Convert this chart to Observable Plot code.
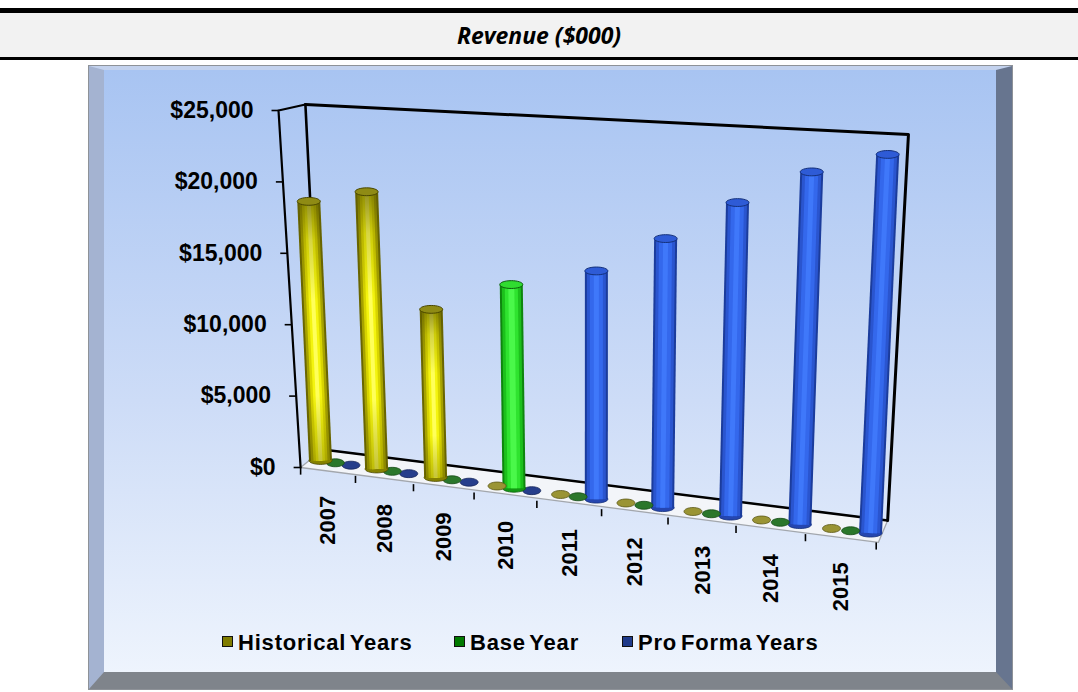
<!DOCTYPE html>
<html>
<head>
<meta charset="utf-8">
<script src="https://cdn.jsdelivr.net/npm/d3@7"></script>
<script src="https://cdn.jsdelivr.net/npm/@observablehq/plot@0.6"></script>
<style>
  html, body { margin: 0; padding: 0; background: #fff; width: 1078px; height: 692px; overflow: hidden; }
  #topRule { position: absolute; left: 0; top: 8px; width: 1078px; height: 5px; background: #000; }
  #titleBand { position: absolute; left: 0; top: 13px; width: 1078px; height: 44px; background: #f2f2f2;
               text-align: center; font: italic 700 23px "Open Sans", "DejaVu Sans", sans-serif; line-height: 44px; color: #000; }
  #botRule { position: absolute; left: 0; top: 57px; width: 1078px; height: 3px; background: #000; }
  #panel { position: absolute; left: 89px; top: 66px; width: 923px; height: 623px; box-sizing: border-box;
           border-style: solid; border-width: 4px 16px 17px 15px;
           border-color: #c3d2ee #67758f #7f848b #a4b3d1;
           background: linear-gradient(#a8c4f2, #cddcf7 55%, #eef4fd);
           box-shadow: 0 0 0 1px #8e9298; }
  #chart { position: absolute; left: 0; top: 0; }
  .lg-sw { position: absolute; top: 636px; width: 11px; height: 11px; box-sizing: border-box; border: 1px solid #111; }
  .lg-tx { position: absolute; top: 630px; line-height: 24px; font: 700 22px "Liberation Sans", Arial, sans-serif;
           letter-spacing: 0.8px; word-spacing: -3px; color: #000; white-space: nowrap; }
  g[aria-label="y-labels"] text { letter-spacing: 1.1px; }
  g[aria-label="x-labels"] text { letter-spacing: 0.7px; }
</style>
</head>
<body>
<div id="topRule"></div>
<div id="titleBand">Revenue ($000)</div>
<div id="botRule"></div>
<div id="panel"></div>
<div id="chart"></div>
<div id="legend"></div>
<script>
// ---------------- data ----------------
const years = ["2007", "2008", "2009", "2010", "2011", "2012", "2013", "2014", "2015"];
const historical = [18200, 19300, 11600, 0, 0, 0, 0, 0, 0];
const baseYear   = [0, 0, 0, 13900, 0, 0, 0, 0, 0];
const proForma   = [0, 0, 0, 0, 15400, 18000, 20800, 23200, 24700];
const seriesNames = ["Historical Years", "Base Year", "Pro Forma Years"];
const yTicks = [0, 5000, 10000, 15000, 20000, 25000];
const yMax = 25000;

// ---------------- 3-D look (layout only) ----------------
const ROW = [0, 0.27, 0.55];                   // depth row of each series
const pos = s => Math.pow(s + 3, 1.2);          // perspective widening along the category axis
const floorAt = s => 490 - 595 * s;             // floor level under a slot (value units)
const frontAt = s => -583 * (s + 0.37);         // front edge of the floor (value units)
const grow = s => 0.997 * (1 + 0.009 * s);      // nearer slots look taller
const xDomain = [pos(0), pos(8.55)], xRange = [320, 870];
const yDomain = [0, yMax], yRange = [467, 110];
const xs = d3.scaleLinear(xDomain, xRange), ys = d3.scaleLinear(yDomain, yRange);
const sAxis = v => -0.37 - 0.424 * v / yMax;    // slanted value-axis edge

const seriesValues = [historical, baseYear, proForma];
const cyl = [];
seriesValues.forEach((vals, k) => {
  years.forEach((yr, i) => {
    const s = i + ROW[k];
    const v = vals[i];
    const y0 = floorAt(s), y1 = y0 + v * grow(s);
    const p0 = pos(s);
    const leanPx = (xs(p0) - 595) * 0.000165 * (ys(y0) - ys(y1));
    const p1 = xs.invert(xs(p0) + leanPx);
    cyl.push({k, series: seriesNames[k], year: yr, value: v, p0, p1, y0, y1});
  });
});

const looks = [
  { layers: [[23, "#6a6600"], [19, "#a6a200"], [14, "#d8d400"], [9, "#f4f40e"], [4, "#ffff5a"]], shade: true,
    base: "#868200", cap: "#8f8b14", capStroke: "#4a4700", disk: "#9a9434", diskStroke: "#5c5818", swatch: "#7f7c00" },
  { layers: [[23, "#0e860e"], [19, "#1cc01c"], [13, "#2fe32f"], [6, "#4af84a"]],
    base: "#149814", cap: "#30dc30", capStroke: "#0b5e0b", disk: "#2b772b", diskStroke: "#164a16", swatch: "#007a00" },
  { layers: [[23, "#1b3c9c"], [19, "#2a55cf"], [13, "#3468ec"], [5, "#3f78fa"]],
    base: "#2546b0", cap: "#2e5bd6", capStroke: "#14307a", disk: "#263e8c", diskStroke: "#16265a", swatch: "#1f3a8a" }
];

const ellipse = ratio => ({
  draw(ctx, size) {
    const rx = Math.sqrt(size / Math.PI), ry = rx * ratio, c = 0.5523;
    ctx.moveTo(rx, 0);
    ctx.bezierCurveTo(rx, ry * c, rx * c, ry, 0, ry);
    ctx.bezierCurveTo(-rx * c, ry, -rx, ry * c, -rx, 0);
    ctx.bezierCurveTo(-rx, -ry * c, -rx * c, -ry, 0, -ry);
    ctx.bezierCurveTo(rx * c, -ry, rx, -ry * c, rx, 0);
    ctx.closePath();
  }
});
const capShape = ellipse(0.34), diskShape = ellipse(0.44);

// frame of the 3-D box (slot, value)
const P = (s, v) => ({x: pos(s), y: v});
const floorPoly = [P(-0.37, 0), P(0.04, 1260), P(8.79, -3710), P(8.66, -5250)];
const backEdges = [P(-0.28, 25420), P(0.04, 1260), P(8.79, -3710)];
const wallEdges = [P(-0.28, 25420), P(9.08, 23320), P(8.79, -3710)];
const sideEdges = [P(-0.37, 0), P(-0.794, 25000), P(-0.28, 25420)];
const tickSlots = d3.range(years.length + 1).map(k => k - 0.37);

const marks = [
  Plot.line(floorPoly, {x: "x", y: "y", fill: "#f3f5f9", stroke: "#a3a7ad", strokeWidth: 1.3, curve: "linear-closed"}),
  Plot.line(backEdges, {x: "x", y: "y", stroke: "#000", strokeWidth: 2.6}),
  Plot.line(wallEdges, {x: "x", y: "y", stroke: "#000", strokeWidth: 3}),
  Plot.line(sideEdges, {x: "x", y: "y", stroke: "#000", strokeWidth: 2.2}),
  Plot.link(tickSlots, {x1: s => pos(s), x2: s => pos(s), y1: s => frontAt(s), y2: s => frontAt(s) - 500,
                        stroke: "#000", strokeWidth: 1.6}),
  Plot.link(yTicks, {x1: v => xs.invert(xs(pos(sAxis(v))) - 7), x2: v => pos(sAxis(v)), y1: v => v, y2: v => v,
                     stroke: "#000", strokeWidth: 1.6}),
];

// cylinders, back row first
[2, 1, 0].forEach(k => {
  const L = looks[k];
  const bars = cyl.filter(d => d.k === k && d.value > 0);
  const zeros = cyl.filter(d => d.k === k && d.value === 0);
  marks.push(Plot.dot(zeros, {x: "p0", y: "y0", r: 9, symbol: diskShape, fill: L.disk, stroke: L.diskStroke, strokeWidth: 0.8}));
  marks.push(Plot.dot(bars, {x: "p0", y: "y0", r: 11.5, symbol: capShape, fill: L.base, stroke: L.capStroke, strokeWidth: 0.8}));
  L.layers.forEach(([w, c], j) => {
    marks.push(Plot.link(bars, {x1: "p0", y1: "y0", x2: "p1", y2: "y1", stroke: c, strokeWidth: w,
                                strokeLinecap: "butt", ariaLabel: j === 0 ? "body" : "soft"}));
  });
  if (L.shade) {
    marks.push(Plot.link(bars, {x1: "p0", y1: "y0", x2: "p1", y2: "y1", stroke: "url(#yshade)", strokeWidth: 21,
                                strokeLinecap: "butt", ariaLabel: "shade"}));
  }
  marks.push(Plot.dot(bars, {x: "p1", y: "y1", r: 11.5, symbol: capShape, fill: L.cap, stroke: L.capStroke, strokeWidth: 1}));
});

marks.push(
  Plot.text(yTicks, {x: v => pos(sAxis(v)), y: v => v, text: d3.format("$,"), textAnchor: "end", dx: -25,
                     fontSize: 23, fontWeight: "bold", fontFamily: "Liberation Sans, Arial, sans-serif",
                     fill: "#000", ariaLabel: "y-labels"}),
  Plot.text(years, {x: (d, i) => pos(i + 0.14), y: (d, i) => frontAt(i + 0.14) - 1680, text: d => d,
                    rotate: -90, textAnchor: "end", lineAnchor: "middle",
                    fontSize: 22, fontWeight: "bold", fontFamily: "Liberation Sans, Arial, sans-serif",
                    fill: "#000", ariaLabel: "x-labels"})
);

const svg = Plot.plot({
  width: 1078, height: 692, margin: 0,
  x: {domain: xDomain, range: xRange, axis: null},
  y: {domain: yDomain, range: yRange, axis: null},
  style: {background: "transparent", overflow: "visible"},
  marks
});
const defs = document.createElementNS("http://www.w3.org/2000/svg", "defs");
defs.innerHTML =
  '<filter id="soft" x="-30%" y="-5%" width="160%" height="110%"><feGaussianBlur stdDeviation="1.3"/></filter>' +
  '<linearGradient id="yshade" x1="0" y1="0" x2="0" y2="1">' +
  '<stop offset="0" stop-color="#5a5600" stop-opacity="0.65"/>' +
  '<stop offset="0.15" stop-color="#5a5600" stop-opacity="0.25"/>' +
  '<stop offset="0.38" stop-color="#5a5600" stop-opacity="0"/>' +
  '<stop offset="0.75" stop-color="#5a5600" stop-opacity="0"/>' +
  '<stop offset="1" stop-color="#5a5600" stop-opacity="0.35"/></linearGradient>';
svg.insertBefore(defs, svg.firstChild);
svg.querySelectorAll('g[aria-label="soft"]').forEach(g => g.setAttribute("filter", "url(#soft)"));
document.getElementById("chart").appendChild(svg);

// legend
const legendX = [222, 454, 622];
const legend = document.getElementById("legend");
seriesNames.forEach((name, k) => {
  const sw = document.createElement("div");
  sw.className = "lg-sw"; sw.style.left = legendX[k] + "px"; sw.style.background = looks[k].swatch;
  const tx = document.createElement("div");
  tx.className = "lg-tx"; tx.style.left = (legendX[k] + 16) + "px"; tx.textContent = name;
  legend.appendChild(sw); legend.appendChild(tx);
});
</script>
</body>
</html>
